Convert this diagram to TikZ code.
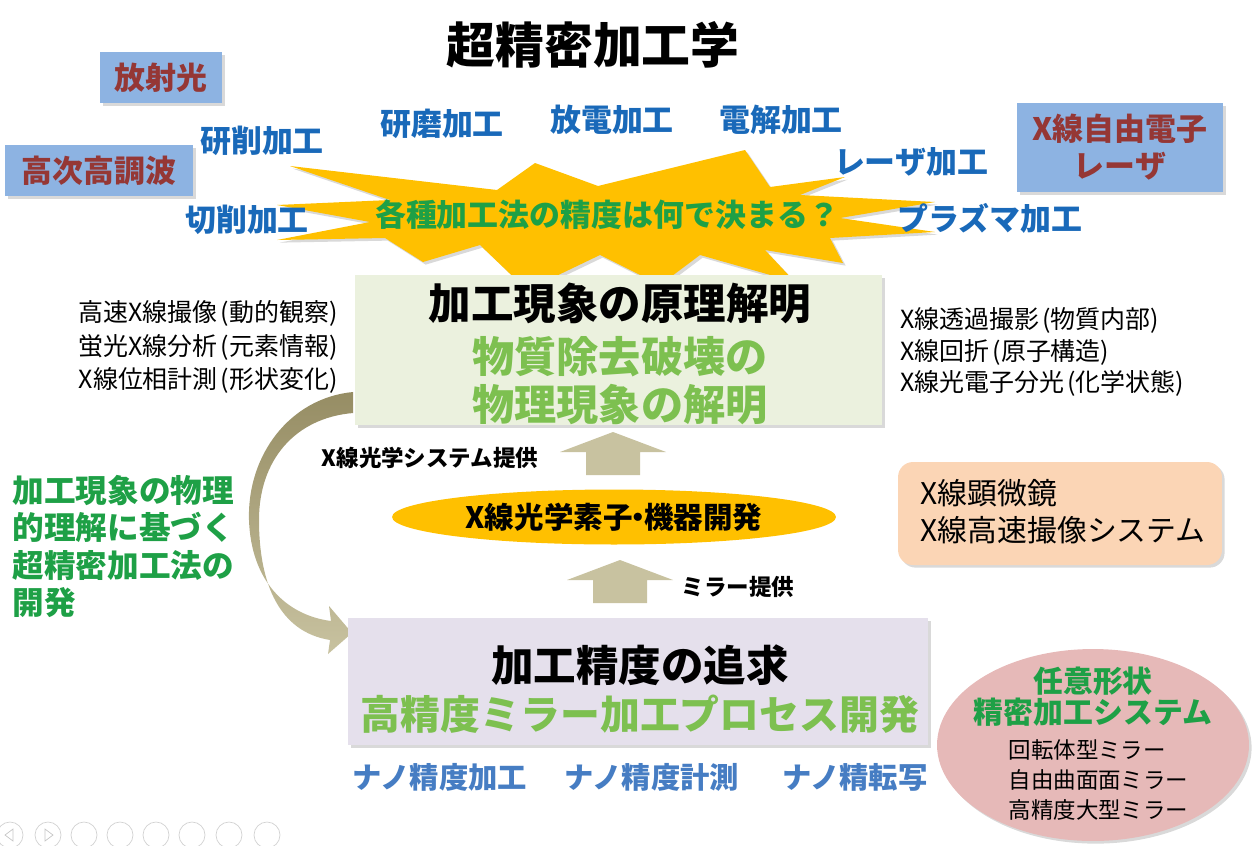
\documentclass[tikz,border=0pt]{standalone}
\usepackage{fontspec}
\setmainfont{Noto Sans CJK JP}
\usetikzlibrary{shapes.geometric, shadows, positioning}

\definecolor{srcblue}{RGB}{141,179,226}
\definecolor{srcred}{RGB}{149,55,53}
\definecolor{procblue}{RGB}{25,105,185}
\definecolor{nanoblue}{RGB}{70,125,195}
\definecolor{staryellow}{RGB}{255,192,0}
\definecolor{qgreen}{RGB}{30,160,70}
\definecolor{leafgreen}{RGB}{125,192,80}
\definecolor{boxgreen}{RGB}{235,241,222}
\definecolor{boxlilac}{RGB}{229,224,236}
\definecolor{arrlight}{RGB}{200,194,160}
\definecolor{arrdark}{RGB}{150,141,100}
\definecolor{peach}{RGB}{251,213,181}
\definecolor{pink}{RGB}{230,185,184}

\newcommand{\lp}{\hspace{0.12em}(}
\newcommand{\rp}{)}

\begin{document}
\begin{tikzpicture}[x = 0.02cm, y = -0.02cm, % one unit = one pixel of the slide
                semithick % line style
            ]

            \tikzstyle{every node}=[inner sep = 0pt]
            \tikzstyle{shade}=[drop shadow = {opacity = 0.3, shadow xshift = 1.5pt,
                shadow yshift = -1.5pt}]
            \tikzstyle{source}=[shade, fill = srcblue, text = srcred, align = center,
                font = \fontsize{17.6pt}{21pt}\selectfont\bfseries]
            \tikzstyle{process}=[text = procblue,
                font = \fontsize{17.6pt}{21pt}\selectfont\bfseries]
            \tikzstyle{nano}=[text = nanoblue,
                font = \fontsize{16.7pt}{20pt}\selectfont\bfseries]
            \tikzstyle{method}=[align = left,
                font = \fontsize{14.2pt}{19pt}\selectfont]
            \tikzstyle{big}=[font = \fontsize{24.2pt}{28pt}\selectfont\bfseries]
            \tikzstyle{sub}=[text = leafgreen,
                font = \fontsize{24pt}{28pt}\selectfont\bfseries]
            \tikzstyle{supply}=[font = \fontsize{12.8pt}{15pt}\selectfont\bfseries]

            \useasboundingbox (0,0) rectangle (1256,845);

            % title and light sources
            \node (title) at (593,45) {\fontsize{27.8pt}{32pt}\selectfont\bfseries 超精密加工学};
            \node (sr) [source, minimum width = 2.44cm, minimum height = 1.02cm]
                at (161,77.5) {放射光};
            \node (hhg) [source, minimum width = 3.76cm, minimum height = 1.02cm]
                at (99,170.5) {高次高調波};
            \node (xfel) [source, minimum width = 4.12cm, minimum height = 1.78cm,
                font = \fontsize{17.6pt}{37\dimexpr0.567pt\relax}\selectfont\bfseries]
                at (1120,147.5) {X線自由電子\\レーザ};

            % explosion
            \path[fill = staryellow, shade] (290,166) -- (497,190) -- (535,163)
                -- (598,186) -- (745,150) -- (770,187) -- (845,177) -- (800,195)
                -- (935,202) -- (840,218) -- (935,232) -- (830,238) -- (843,263)
                -- (765,250) -- (795,282) -- (700,255) -- (660,285) -- (600,255)
                -- (527,290) -- (480,245) -- (423,262) -- (385,238) -- (277,240)
                -- (370,222) -- (277,205) -- (390,200) -- cycle;
            \node (q) at (607,215) [text = qgreen,
                font = \fontsize{17.6pt}{21pt}\selectfont\bfseries]
                {各種加工法の精度は何で決まる？};

            \node (p1) [process] at (262,141) {研削加工};
            \node (p2) [process] at (442,124) {研磨加工};
            \node (p3) [process] at (612,120) {放電加工};
            \node (p4) [process] at (781,120) {電解加工};
            \node (p5) [process] at (911,162) {レーザ加工};
            \node (p6) [process] at (247,220) {切削加工};
            \node (p7) [process] at (990,218) {プラズマ加工};

            % principle box
            \node (prin) [shade, fill = boxgreen, minimum width = 10.54cm,
                minimum height = 3cm] at (618.5,350) {};
            \node (prin1) [big] at (620,303) {加工現象の原理解明};
            \node (prin2) [sub] at (620,357) {物質除去破壊の};
            \node (prin3) [sub] at (620,405) {物理現象の解明};

            \node (meas1) [method, anchor = east, align = right] at (338,347)
                {高速X線撮像\lp 動的観察\rp\\蛍光X線分析\lp 元素情報\rp\\X線位相計測\lp 形状変化\rp};
            \node (meas2) [method, anchor = west,
                font = \fontsize{14.2pt}{17.9pt}\selectfont] at (900,352)
                {X線透過撮影\lp 物質内部\rp\\X線回折\lp 原子構造\rp\\X線光電子分光\lp 化学状態\rp};

            % curved arrow from principle to precision
            \path[top color = arrdark, bottom color = arrlight] (353,392)
                .. controls (290,398) and (247,455) .. (249,520)
                .. controls (251,580) and (285,615) .. (331,621)
                -- (329,606) -- (352,633) -- (328,654) -- (330,640)
                .. controls (280,632) and (259,585) .. (259,520)
                .. controls (259,460) and (295,418) .. (353,413) -- cycle;

            \node (dev) [anchor = west, align = left, text = qgreen,
                font = \fontsize{18pt}{21.4pt}\selectfont\bfseries] at (12,546.5)
                {加工現象の物理\\的理解に基づく\\超精密加工法の\\開発};

            % optics in the middle
            \foreach \cx/\ty in {613/432, 620/560}
                \fill[arrlight] (\cx,\ty) -- ++(53,20) -- ++(-26,0) -- ++(0,23)
                    -- ++(-54,0) -- ++(0,-23) -- ++(-26,0) -- cycle;
            \node (opt) [ellipse, fill = staryellow, minimum width = 8.88cm,
                minimum height = 1.1cm,
                font = \fontsize{16.8pt}{19pt}\selectfont\bfseries]
                at (614,517) {X線光学素子\kern-0.3em・\kern-0.3em 機器開発};
            \node (give1) [supply] at (430,458) {X線光学システム提供};
            \node (give2) [supply] at (738,587) {ミラー提供};

            \node (micro) [shade, fill = peach, rounded corners = 0.3cm,
                minimum width = 6.48cm, minimum height = 2.06cm] at (1060,513.5) {};
            \node (micro1) [anchor = west, align = left,
                font = \fontsize{17pt}{21pt}\selectfont] at (920,511.5)
                {X線顕微鏡\\X線高速撮像システム};

            % precision box
            \node (prec) [shade, fill = boxlilac, minimum width = 11.6cm,
                minimum height = 2.54cm] at (638,681.5) {};
            \node (prec1) [big] at (640,665) {加工精度の追求};
            \node (prec2) [sub, font = \fontsize{22.7pt}{26pt}\selectfont\bfseries]
                at (640,714) {高精度ミラー加工プロセス開発};

            \node (n1) [nano] at (440,777) {ナノ精度加工};
            \node (n2) [nano] at (652,777) {ナノ精度計測};
            \node (n3) [nano] at (855,777) {ナノ精転写};

            % free form system
            \node (free) [ellipse, fill = pink, shade, minimum width = 6.24cm,
                minimum height = 3.84cm] at (1093,745) {};
            \node (free1) [align = center, text = qgreen,
                font = \fontsize{17pt}{31\dimexpr0.567pt\relax}\selectfont\bfseries]
                at (1093,696.5) {任意形状\\精密加工システム};
            \node (free2) [anchor = west, align = left,
                font = \fontsize{12.8pt}{17pt}\selectfont] at (1008,780)
                {回転体型ミラー\\自由曲面面ミラー\\高精度大型ミラー};

            % slide show buttons
            \foreach \bx in {10, 48, 84, 120, 156, 192, 229, 267}
                \draw[gray!35, thin] (\bx,835) circle (13);
            \draw[gray!45, thin] (13,829) -- (5,835) -- (13,841) -- cycle;
            \draw[gray!45, thin] (45,829) -- (53,835) -- (45,841) -- cycle;
        \end{tikzpicture}
\end{document}
